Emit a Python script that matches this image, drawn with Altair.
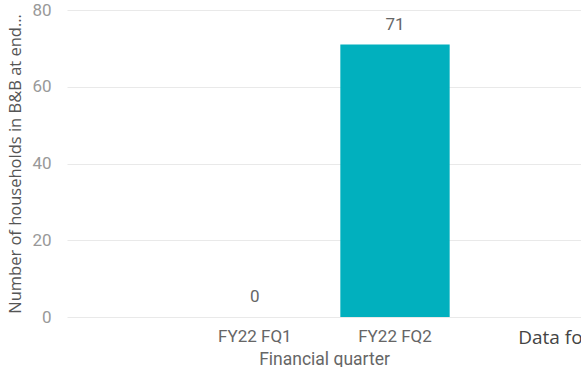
import altair as alt
import pandas as pd

# Households in bed & breakfast accommodation at the end of each quarter
quarters = ["FY22 FQ1", "FY22 FQ2"]
households = [0, 71]
# Full category list shown on the axis (the last one has no data yet)
axis_categories = ["FY22 FQ1", "FY22 FQ2", "Data for FY22 FQ3"]
y_ticks = [0, 20, 40, 60, 80]

df = pd.DataFrame({"quarter": quarters, "households": households})

PLOT_W = 514
NOTE = axis_categories[-1]
is_note = f"datum.value == '{NOTE}'"

x_enc = alt.X(
    "quarter:N",
    sort=axis_categories,
    scale=alt.Scale(domain=axis_categories, range=[0, 656],
                    paddingInner=0.22, paddingOuter=0.95),
    axis=alt.Axis(
        title="Financial quarter",
        titleFont="Roboto", titleFontSize=17.5, titleFontWeight="normal",
        titleColor="#666666", titlePadding=3, titleX=PLOT_W / 2,
        labelFont={"condition": {"test": is_note, "value": "Open Sans"}, "value": "Roboto"},
        labelFontSize={"condition": {"test": is_note, "value": 19}, "value": 17},
        labelColor={"condition": {"test": is_note, "value": "#444444"}, "value": "#666666"},
        labelAlign={"condition": {"test": is_note, "value": "left"}, "value": "center"},
        labelOffset={"condition": {"test": is_note, "value": -17}, "value": 0},
        labelAngle=0, labelPadding=11,
        ticks=False, domain=False, grid=False,
    ),
)

y_enc = alt.Y(
    "households:Q",
    scale=alt.Scale(domain=[0, 80], nice=False),
    axis=alt.Axis(
        values=y_ticks,
        title="Number of households in B&B at end of quarter",
        titleFont="Open Sans", titleFontSize=16.5, titleFontWeight="normal",
        titleColor="#555555", titleLimit=301.5, titlePadding=8,
        labelFont="Roboto", labelFontSize=17, labelColor="#999999",
        labelPadding=16,
        ticks=False, domain=False,
        grid=True, gridColor="#e9e9e9", gridWidth=1,
    ),
)

bars = alt.Chart(df).mark_bar(color="#01B0BE").encode(x=x_enc, y=y_enc)

labels = alt.Chart(df).mark_text(
    font="Roboto", fontSize=17, color="#666666", baseline="middle", dy=-20
).encode(x=alt.X("quarter:N", sort=axis_categories), y="households:Q",
         text="households:Q")

chart = alt.layer(bars, labels).properties(
    width=PLOT_W,
    height=307,
    autosize=alt.AutoSizeParams(type="none"),
    padding={"left": 67, "top": 10, "right": 0, "bottom": 50},
).configure_view(stroke=None)

chart.save("out.html", embed_options={"renderer": "svg", "actions": False})
